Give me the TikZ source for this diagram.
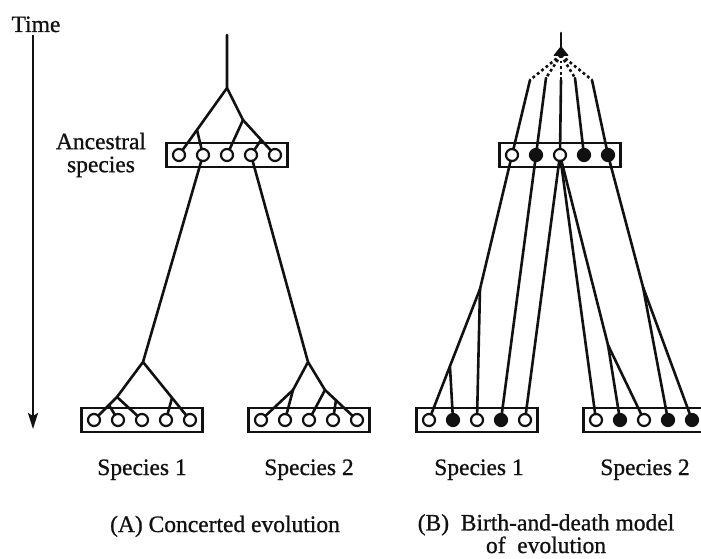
\documentclass[tikz,border=0pt]{standalone}
\usepackage{fontspec}
\setmainfont{Liberation Serif}[FakeBold=0.9]
\usetikzlibrary{arrows.meta,positioning}
\usepackage{xcolor}
\definecolor{ink}{RGB}{17,17,17}
\tikzset{
    branch/.style={
        line width=2.6pt,draw=ink,line cap=round,line join=round
    },
    ghost/.style={
        line width=2.6pt,draw=ink,dash pattern=on 2.8pt off 2.8pt
    },
    gene/.style={
        circle,draw=ink,line width=2.2pt,fill=#1,
        minimum size=12pt,inner sep=0pt,outer sep=0pt
    },
    gene/.default=white,
    famrow/.style={
        draw=ink,line width=2.2pt,minimum width=121pt,
        minimum height=24pt,inner sep=0pt,outer sep=0pt
    },
    lbl/.style={
        font=\fontsize{23.5}{23}\selectfont,text=ink,inner sep=0pt
    },
    timeline/.style={
        -{Stealth[length=16pt,width=10pt,inset=3pt]},line width=2.2pt,draw=ink
    }
}

\begin{document}
\begin{tikzpicture}[x=1pt,y=-1pt]
\useasboundingbox (0,0) rectangle (701,559);

\node[lbl,anchor=base] (timeLbl) at (36,32) {Time};
\coordinate (timeTop) at (33,35);
\coordinate (timeEnd) at (33,429);
\draw[timeline] (timeTop) -- (timeEnd);

\node[lbl,align=center] (ancLbl) at (101,155) {Ancestral\\species};

% (A) concerted evolution
\node[famrow] (boxAanc) at (227,155) {};
\node[gene,right=6.5pt of boxAanc.west] (anc1) {};
\node[gene,right=12pt of anc1] (anc2) {};
\node[gene,right=12pt of anc2] (anc3) {};
\node[gene,right=12pt of anc3] (anc4) {};
\node[gene,right=12pt of anc4] (anc5) {};

\node[famrow] (boxAone) at (142,420) {};
\node[gene,right=6.5pt of boxAone.west] (one1) {};
\node[gene,right=12pt of one1] (one2) {};
\node[gene,right=12pt of one2] (one3) {};
\node[gene,right=12pt of one3] (one4) {};
\node[gene,right=12pt of one4] (one5) {};

\node[famrow] (boxAtwo) at (309,420) {};
\node[gene,right=6.5pt of boxAtwo.west] (two1) {};
\node[gene,right=12pt of two1] (two2) {};
\node[gene,right=12pt of two2] (two3) {};
\node[gene,right=12pt of two3] (two4) {};
\node[gene,right=12pt of two4] (two5) {};

\coordinate (topA) at (227,35);
\coordinate (forkA) at (227,88);
\coordinate (forkAl) at (197,130);
\coordinate (forkAr) at (243,120);
\coordinate (forkArr) at (261,140);

\draw[branch] (topA) -- (forkA) -- (anc1);
\draw[branch] (forkAl) -- (anc2);
\draw[branch] (forkA) -- (forkAr) -- (anc5);
\draw[branch] (forkAr) -- (anc3);
\draw[branch] (forkArr) -- (anc4);

\coordinate (rootOne) at (143,362);
\coordinate (forkOne) at (117,397);
\coordinate (stubOne) at (109,405);
\coordinate (stubOneR) at (172,398);

\draw[branch] (anc2) -- (rootOne) -- (forkOne) -- (one1);
\draw[branch] (forkOne) -- (one3);
\draw[branch] (stubOne) -- (one2);
\draw[branch] (rootOne) -- (one5);
\draw[branch] (stubOneR) -- (one4);

\coordinate (rootTwo) at (308,362);
\coordinate (forkTwoL) at (293,390);
\coordinate (forkTwoR) at (325,390);
\coordinate (stubTwo) at (336,400);

\draw[branch] (anc4) -- (rootTwo) -- (forkTwoL) -- (two1);
\draw[branch] (forkTwoL) -- (two2);
\draw[branch] (rootTwo) -- (forkTwoR) -- (two5);
\draw[branch] (forkTwoR) -- (two3);
\draw[branch] (stubTwo) -- (two4);

% (B) birth-and-death model
\node[famrow] (boxBanc) at (560,155) {};
\node[gene,right=6.5pt of boxBanc.west] (Banc1) {};
\node[gene=ink,right=12pt of Banc1] (Banc2) {};
\node[gene,right=12pt of Banc2] (Banc3) {};
\node[gene=ink,right=12pt of Banc3] (Banc4) {};
\node[gene=ink,right=12pt of Banc4] (Banc5) {};

\node[famrow] (boxBone) at (477,420) {};
\node[gene,right=6.5pt of boxBone.west] (Bone1) {};
\node[gene=ink,right=12pt of Bone1] (Bone2) {};
\node[gene,right=12pt of Bone2] (Bone3) {};
\node[gene=ink,right=12pt of Bone3] (Bone4) {};
\node[gene,right=12pt of Bone4] (Bone5) {};

\node[famrow] (boxBtwo) at (644,420) {};
\node[gene,right=6.5pt of boxBtwo.west] (Btwo1) {};
\node[gene=ink,right=12pt of Btwo1] (Btwo2) {};
\node[gene,right=12pt of Btwo2] (Btwo3) {};
\node[gene=ink,right=12pt of Btwo3] (Btwo4) {};
\node[gene=ink,right=12pt of Btwo4] (Btwo5) {};

\coordinate (topB) at (561,33);
\coordinate (rootB) at (561,55);
\fill[ink,rounded corners=1pt] (553,56) -- (561,46) -- (569,56) -- cycle;
\draw[branch] (topB) -- (rootB);

\coordinate (dot1) at (530,80);
\coordinate (dot2) at (546,78);
\coordinate (dot3) at (561,80);
\coordinate (dot4) at (575,78);
\coordinate (dot5) at (592,80);

\draw[ghost] (rootB) -- (dot1);
\draw[ghost] (rootB) -- (dot2);
\draw[ghost] (rootB) -- (dot3);
\draw[ghost] (rootB) -- (dot4);
\draw[ghost] (rootB) -- (dot5);

\draw[branch] (dot1) -- (Banc1);
\draw[branch] (dot2) -- (Banc2);
\draw[branch] (dot3) -- (Banc3);
\draw[branch] (dot4) -- (Banc4);
\draw[branch] (dot5) -- (Banc5);

\coordinate (kinkB1) at (480,289);
\coordinate (stubB1) at (450,367);
\coordinate (kinkB3) at (608,345);
\coordinate (kinkB5) at (643,287);

\draw[branch] (Banc1) -- (kinkB1) -- (Bone1);
\draw[branch] (kinkB1) -- (Bone3);
\draw[branch] (stubB1) -- (Bone2);
\draw[branch] (Banc2) -- (Bone4);
\draw[branch] (Banc3) -- (Bone5);
\draw[branch] (Banc3) -- (Btwo1);
\draw[branch] (Banc3) -- (kinkB3) -- (Btwo3);
\draw[branch] (kinkB3) -- (Btwo2);
\draw[branch] (Banc5) -- (kinkB5) -- (Btwo5);
\draw[branch] (kinkB5) -- (Btwo4);

\node[lbl,anchor=base] (oneA) at (142,475) {Species 1};
\node[lbl,anchor=base] (twoA) at (309,475) {Species 2};
\node[lbl,anchor=base] (oneB) at (479,475) {Species 1};
\node[lbl,anchor=base] (twoB) at (645,475) {Species 2};

\node[lbl,anchor=base] (capA) at (225,532) {(A) Concerted evolution};
\node[lbl,anchor=base,align=center,font=\fontsize{23.5}{20}\selectfont]
(capB) at (546,553) {(B)\ \ Birth-and-death model\\of\ \ evolution};

\end{tikzpicture}
\end{document}
